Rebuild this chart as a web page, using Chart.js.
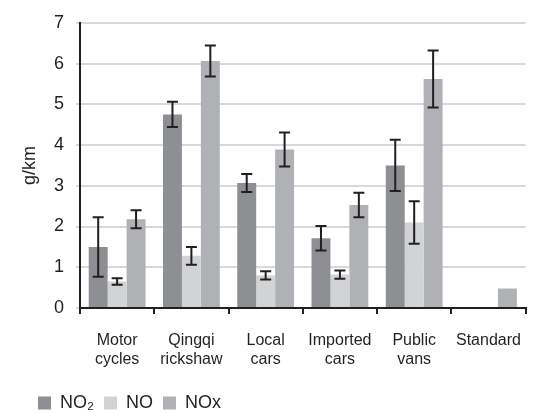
<!DOCTYPE html>
<html>
<head>
<meta charset="utf-8">
<script src="https://cdn.jsdelivr.net/npm/chart.js@4/dist/chart.umd.min.js"></script>
<style>
  html, body { margin: 0; padding: 0; background: #ffffff; }
  #wrap { width: 539px; height: 413px; position: relative; }
</style>
</head>
<body>
<div id="wrap"><canvas id="chart" width="539" height="413"></canvas></div>
<script>
// Vehicle categories (two-line labels)
const categories = [
  ['Motor', 'cycles'],
  ['Qingqi', 'rickshaw'],
  ['Local', 'cars'],
  ['Imported', 'cars'],
  ['Public', 'vans'],
  ['Standard']
];

// Mean emission factors, g/km
const no2Values = [1.50, 4.75, 3.07, 1.71, 3.50, 0];
const noValues  = [0.65, 1.28, 0.80, 0.82, 2.10, 0];
const noxValues = [2.18, 6.06, 3.89, 2.53, 5.62, 0.48];

// Error (+/-) for each mean
const no2Errors = [0.73, 0.31, 0.22, 0.30, 0.63, 0];
const noErrors  = [0.08, 0.22, 0.10, 0.10, 0.52, 0];
const noxErrors = [0.22, 0.38, 0.42, 0.30, 0.70, 0];

// Y axis ticks
const yTicks = [0, 1, 2, 3, 4, 5, 6, 7];

const ink = '#231f20';

// Draws symmetric error bars with caps on top of each bar
const errorBars = {
  id: 'errorBars',
  afterDatasetsDraw(chart) {
    const ctx = chart.ctx;
    const y = chart.scales.y;
    ctx.save();
    ctx.strokeStyle = ink;
    ctx.lineWidth = 2;
    chart.data.datasets.forEach((ds, i) => {
      const meta = chart.getDatasetMeta(i);
      meta.data.forEach((bar, j) => {
        const err = ds.errors[j];
        if (!err) return;
        const v = ds.data[j];
        const top = y.getPixelForValue(v + err);
        const bottom = y.getPixelForValue(v - err);
        const half = 5.5;
        ctx.beginPath();
        ctx.moveTo(bar.x, top);
        ctx.lineTo(bar.x, bottom);
        ctx.moveTo(bar.x - half, top);
        ctx.lineTo(bar.x + half, top);
        ctx.moveTo(bar.x - half, bottom);
        ctx.lineTo(bar.x + half, bottom);
        ctx.stroke();
      });
    });
    ctx.restore();
  }
};

new Chart(document.getElementById('chart'), {
  type: 'bar',
  data: {
    labels: categories,
    datasets: [
      { label: 'NO\u2082', data: no2Values, errors: no2Errors, backgroundColor: '#8e8f92' },
      { label: 'NO', data: noValues, errors: noErrors, backgroundColor: '#d2d3d5' },
      { label: 'NOx', data: noxValues, errors: noxErrors, backgroundColor: '#b0b1b4' }
    ]
  },
  options: {
    responsive: false,
    animation: false,
    devicePixelRatio: 1,
    layout: { padding: { left: 28, right: 1, top: 18, bottom: -9 } },
    datasets: {
      bar: { categoryPercentage: 0.765, barPercentage: 1.0, borderWidth: 0 }
    },
    scales: {
      x: {
        grid: {
          display: true,
          drawOnChartArea: false,
          drawTicks: true,
          tickLength: 6,
          color: ink,
          lineWidth: 2,
          offset: true
        },
        border: { display: true, color: ink, width: 2 },
        ticks: {
          autoSkip: false,
          maxRotation: 0,
          minRotation: 0,
          padding: 18,
          color: ink,
          font: { family: 'Liberation Sans, Arial, sans-serif', size: 16, lineHeight: 1.13 }
        },
        afterFit(scale) { scale.height = 76; }
      },
      y: {
        min: 0,
        max: 7,
        afterBuildTicks(scale) { scale.ticks = yTicks.map(v => ({ value: v })); },
        grid: { color: '#d9d9d9', lineWidth: 2, tickLength: 4 },
        border: { display: true, color: ink, width: 2 },
        ticks: {
          padding: 12,
          color: ink,
          font: { family: 'Liberation Sans, Arial, sans-serif', size: 18 }
        },
        title: {
          display: true,
          text: 'g/km',
          color: ink,
          padding: { top: -9, bottom: 0 },
          font: { family: 'Liberation Sans, Arial, sans-serif', size: 18 }
        },
        afterFit(scale) { scale.width = 52; }
      }
    },
    plugins: {
      legend: {
        position: 'bottom',
        align: 'start',
        labels: {
          boxWidth: 13,
          boxHeight: 13,
          padding: 10,
          color: ink,
          font: { family: 'Liberation Sans, Arial, sans-serif', size: 18 }
        }
      },
      tooltip: { enabled: false }
    }
  },
  plugins: [errorBars]
});
</script>
</body>
</html>
